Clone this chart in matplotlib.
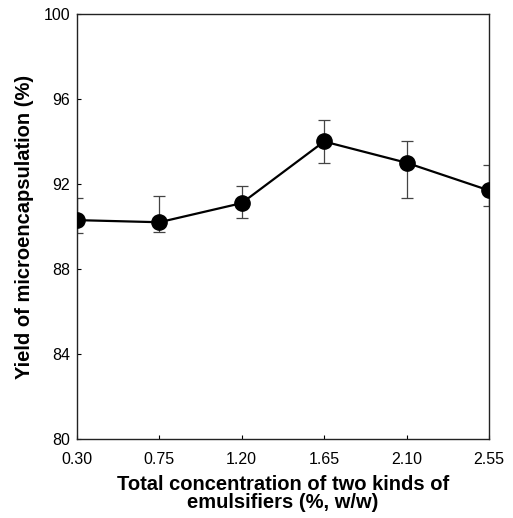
import matplotlib
matplotlib.use("Agg")
import matplotlib.pyplot as plt

concentration = [0.30, 0.75, 1.20, 1.65, 2.10, 2.55]
yield_pct = [90.3, 90.2, 91.1, 94.0, 93.0, 91.7]
err_low = [0.6, 0.45, 0.7, 1.0, 1.65, 0.75]
err_high = [1.05, 1.25, 0.8, 1.0, 1.0, 1.2]
xtick_labels = ["0.30", "0.75", "1.20", "1.65", "2.10", "2.55"]
yticks = [80, 84, 88, 92, 96, 100]

plt.rcParams['font.family'] = ['Liberation Sans', 'DejaVu Sans']

fig = plt.figure(figsize=(5.13, 5.18), dpi=100)
ax = fig.add_axes([0.150, 0.1525, 0.803, 0.8205])

ax.errorbar(concentration, yield_pct, yerr=[err_low, err_high], fmt='none',
            ecolor='#444444', elinewidth=0.9, capsize=4, capthick=0.9, zorder=2)
ax.plot(concentration, yield_pct, '-', color='black', lw=1.6, zorder=3)
ax.plot(concentration, yield_pct, 'o', color='black', ms=11, zorder=4)

ax.set_xlim(0.30, 2.55)
ax.set_ylim(80, 100)
ax.set_xticks(concentration)
ax.set_xticklabels(xtick_labels)
ax.set_yticks(yticks)
ax.tick_params(direction='in', length=3, width=0.8, labelsize=11.5)
ax.tick_params(axis='x', pad=9)
ax.tick_params(axis='y', pad=5)
for s in ax.spines.values():
    s.set_linewidth(1.0)
    s.set_color('#222222')

ax.set_xlabel("Total concentration of two kinds of\nemulsifiers (%, w/w)",
              fontsize=14.5, fontweight='bold', labelpad=6, linespacing=0.95)
ax.set_ylabel("Yield of microencapsulation (%)", fontsize=14.5, fontweight='bold',
              labelpad=7)

fig.savefig("out.png", dpi=100)
